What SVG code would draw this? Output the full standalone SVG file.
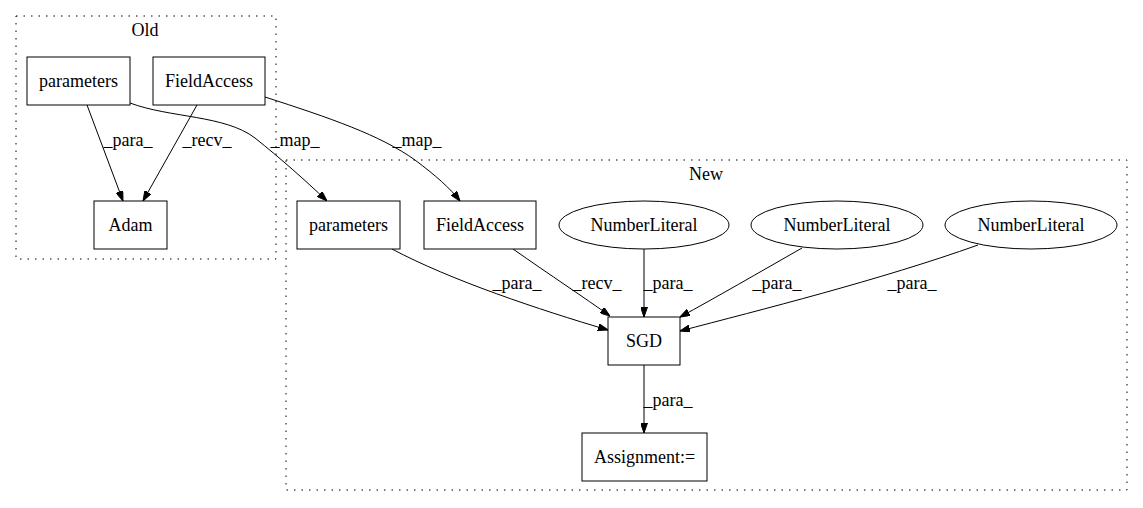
<svg xmlns="http://www.w3.org/2000/svg" width="1143" height="508" viewBox="0 0 1143 508" font-family="'Liberation Serif','Times New Roman','DejaVu Serif',serif">
<defs>
<marker id="arr" viewBox="0 0 10 7" markerWidth="10" markerHeight="7" refX="10" refY="3.5" orient="auto" markerUnits="userSpaceOnUse">
<path d="M0,0 L10,3.5 L0,7 z" fill="#000" stroke="#000"/>
</marker>
<style>
text{font-family:'Liberation Serif','Times New Roman','DejaVu Serif',serif;font-size:18px;fill:#000;text-anchor:middle}
.cl{fill:none;stroke:#000;stroke-width:1;stroke-dasharray:1.5,6}
.n{fill:#fff;stroke:#000;stroke-width:1}
.e{fill:none;stroke:#000;stroke-width:1;marker-end:url(#arr)}
</style>
</defs>
<rect width="1143" height="508" fill="#fff"/>
<g id="cluster_old">
<rect class="cl" x="16" y="16" width="260" height="243"/>
<text x="145" y="36">Old</text>
</g>
<g id="cluster_new">
<rect class="cl" x="286" y="160" width="841" height="330"/>
<text x="706" y="180">New</text>
</g>
<g id="connectors">
<path class="e" d="M87,105 L123,201"/>
<text x="128" y="146">_para_</text>
<path class="e" d="M197,105 L143,201"/>
<text x="207" y="146">_recv_</text>
<path class="e" d="M130,103 C170,118 225,115 255,138 C280,158 305,180 327,201"/>
<text x="295" y="146">_map_</text>
<path class="e" d="M265,97 C330,118 380,135 415,160 C435,175 450,188 460,201"/>
<text x="417" y="146">_map_</text>
<path class="e" d="M392,249 C450,280 540,310 608,330"/>
<text x="517" y="289">_para_</text>
<path class="e" d="M513,249 C550,275 585,298 610,316"/>
<text x="597" y="289">_recv_</text>
<path class="e" d="M644,249 L644,317"/>
<text x="668" y="289">_para_</text>
<path class="e" d="M802,248 C760,272 715,298 680,317"/>
<text x="777" y="289">_para_</text>
<path class="e" d="M978,245 C880,280 760,310 680,331"/>
<text x="912" y="289">_para_</text>
<path class="e" d="M644,365 L644,433"/>
<text x="668" y="406">_para_</text>
</g>
<g id="old_parameters">
<rect class="n" x="27" y="57" width="103" height="48"/>
<text x="78.5" y="87">parameters</text>
</g>
<g id="old_fieldaccess">
<rect class="n" x="153" y="57" width="112" height="48"/>
<text x="209" y="87">FieldAccess</text>
</g>
<g id="adam">
<rect class="n" x="94" y="201" width="73" height="48"/>
<text x="130.5" y="231">Adam</text>
</g>
<g id="new_parameters">
<rect class="n" x="297" y="201" width="103" height="48"/>
<text x="348.5" y="231">parameters</text>
</g>
<g id="new_fieldaccess">
<rect class="n" x="424" y="201" width="112" height="48"/>
<text x="480" y="231">FieldAccess</text>
</g>
<g id="numberliteral1">
<ellipse class="n" cx="644" cy="225" rx="85" ry="24"/>
<text x="644" y="231">NumberLiteral</text>
</g>
<g id="numberliteral2">
<ellipse class="n" cx="837" cy="225" rx="86" ry="24"/>
<text x="837" y="231">NumberLiteral</text>
</g>
<g id="numberliteral3">
<ellipse class="n" cx="1031" cy="225" rx="86" ry="24"/>
<text x="1031" y="231">NumberLiteral</text>
</g>
<g id="sgd">
<rect class="n" x="608" y="317" width="72" height="48"/>
<text x="644" y="347">SGD</text>
</g>
<g id="assignment">
<rect class="n" x="582" y="433" width="125" height="48"/>
<text x="644.5" y="463">Assignment:=</text>
</g>
</svg>
